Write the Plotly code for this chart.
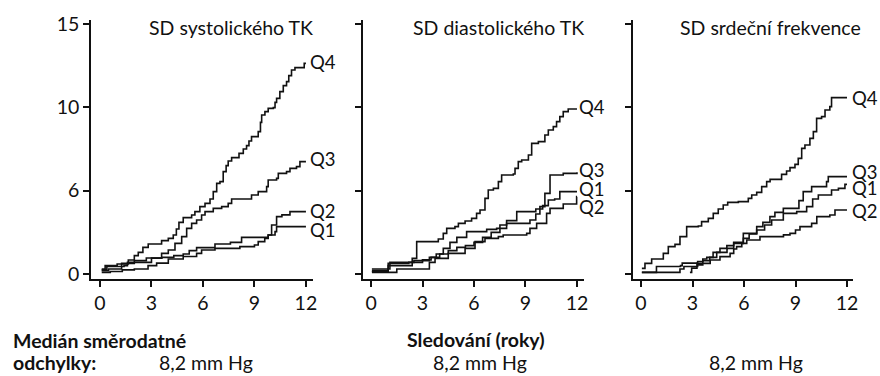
import plotly.graph_objects as go

# ---------------- data (follow-up years, cumulative value) ----------------
tick_years = [0, 3, 6, 9, 12]
y_tickvals = [0, 5, 10, 15]
y_ticktext = ["0", "6", "10", "15"]

panel_titles = ["SD systolického TK", "SD diastolického TK", "SD srdeční frekvence"]
quartiles = ["Q1", "Q2", "Q3", "Q4"]

# Panel 1: SD systolického TK
sys_q4_t = [0.1, 0.3, 1.0, 1.65, 2.0, 2.23, 2.5, 2.81, 3.59, 3.98, 4.27, 4.45, 4.6, 4.85, 5.34, 5.53, 5.82, 6.12, 6.41, 6.6, 6.8, 6.99, 7.18, 7.35, 7.47, 7.67, 8.10, 8.35, 8.54, 8.68, 8.83, 9.22, 9.35, 9.42, 9.61, 9.80, 10.1, 10.2, 10.29, 10.48, 10.68, 10.87, 11.0, 11.16, 11.36, 11.75, 11.9, 12.0]
sys_q4_v = [0.3, 0.5, 0.6, 0.84, 1.1, 1.3, 1.6, 1.8, 2.0, 2.14, 2.34, 2.7, 3.1, 3.38, 3.54, 3.74, 4.04, 4.24, 4.5, 4.94, 5.44, 5.54, 6.14, 6.5, 6.78, 6.98, 7.24, 7.5, 7.7, 7.98, 8.24, 8.54, 9.1, 9.54, 9.74, 9.94, 9.98, 10.3, 10.54, 10.94, 11.3, 11.54, 11.9, 12.24, 12.38, 12.38, 12.64, 12.64]
sys_q3_t = [0.1, 0.5, 1.26, 2.0, 2.7, 3.59, 3.98, 4.37, 4.76, 5.05, 5.34, 5.63, 5.92, 6.12, 6.6, 7.09, 7.47, 7.67, 8.25, 8.83, 9.22, 9.71, 9.80, 10.29, 10.39, 10.87, 11.07, 11.45, 11.65, 12.0]
sys_q3_v = [0.2, 0.3, 0.64, 0.8, 0.96, 1.24, 1.44, 1.84, 2.24, 2.74, 3.04, 3.24, 3.54, 3.74, 3.94, 4.04, 4.24, 4.5, 4.5, 4.74, 4.94, 5.24, 5.64, 5.74, 6.04, 6.14, 6.34, 6.44, 6.74, 6.74]
sys_q2_t = [0.1, 0.4, 1.4, 1.6, 2.6, 3.0, 3.6, 4.3, 4.85, 5.2, 5.63, 6.7, 7.6, 8.25, 9.6, 9.8, 10.0, 10.29, 10.6, 11.07, 12.0]
sys_q2_v = [0.25, 0.45, 0.5, 0.7, 0.7, 0.95, 1.0, 1.1, 1.2, 1.4, 1.58, 1.8, 1.9, 2.2, 2.2, 2.34, 2.94, 3.44, 3.55, 3.74, 3.74]
sys_q1_t = [0.1, 0.6, 1.3, 2.0, 2.8, 3.3, 3.98, 4.85, 5.63, 5.92, 6.7, 8.15, 9.0, 9.22, 9.6, 9.8, 10.2, 10.29, 12.0]
sys_q1_v = [0.1, 0.15, 0.25, 0.3, 0.5, 0.65, 0.9, 1.05, 1.24, 1.44, 1.54, 1.64, 1.74, 1.94, 2.14, 2.34, 2.54, 2.84, 2.84]

# Panel 2: SD diastolického TK
dia_q4_t = [0.05, 1.0, 1.0, 2.2, 2.4, 2.66, 3.86, 3.92, 4.21, 4.41, 4.89, 5.09, 5.48, 5.86, 6.15, 6.35, 6.64, 6.83, 7.13, 7.42, 7.61, 8.29, 8.39, 8.58, 8.78, 9.17, 9.36, 9.75, 10.13, 10.33, 10.62, 10.81, 11.0, 11.2, 11.49, 12.0]
dia_q4_v = [0.3, 0.3, 0.64, 0.7, 0.94, 1.94, 1.94, 2.1, 2.44, 2.74, 2.84, 3.04, 3.18, 3.34, 3.64, 3.84, 4.54, 5.04, 5.14, 5.54, 5.94, 6.0, 6.34, 6.74, 6.84, 7.14, 7.84, 7.94, 8.34, 8.64, 8.84, 9.14, 9.44, 9.74, 9.9, 9.9]
dia_q3_t = [0.05, 0.8, 1.0, 2.4, 3.0, 3.4, 3.8, 4.21, 4.6, 5.0, 5.57, 6.74, 7.32, 7.9, 9.26, 9.6, 9.84, 10.13, 10.43, 11.2, 12.0]
dia_q3_v = [0.15, 0.15, 0.5, 0.7, 0.8, 1.0, 1.2, 1.54, 1.9, 2.2, 2.54, 2.68, 2.74, 3.04, 3.24, 3.6, 4.04, 4.84, 5.94, 6.04, 6.1]
dia_q1_t = [0.05, 1.0, 1.1, 2.5, 3.0, 3.5, 4.0, 4.5, 5.0, 5.5, 6.0, 6.5, 7.0, 7.51, 7.9, 8.49, 9.46, 9.6, 10.0, 10.33, 10.7, 11.0, 12.0]
dia_q1_v = [0.2, 0.3, 0.7, 0.8, 0.85, 1.0, 1.2, 1.4, 1.6, 1.7, 1.9, 2.2, 2.5, 2.94, 3.2, 3.74, 3.74, 3.9, 4.1, 4.44, 4.5, 4.94, 4.94]
dia_q2_t = [0.05, 1.3, 1.5, 3.0, 3.4, 3.73, 4.5, 5.48, 6.06, 6.64, 7.42, 7.7, 9.07, 9.26, 9.65, 10.23, 10.43, 11.2, 11.9, 11.98, 12.0]
dia_q2_v = [0.1, 0.1, 0.3, 0.3, 0.7, 0.94, 1.24, 1.54, 1.94, 2.14, 2.24, 2.34, 2.44, 2.74, 3.04, 3.64, 3.94, 4.2, 4.2, 4.64, 4.64]

# Panel 3: SD srdeční frekvence
hr_q4_t = [0.05, 0.23, 0.62, 1.2, 1.3, 1.59, 1.98, 2.27, 2.66, 3.34, 3.53, 3.92, 4.21, 4.5, 4.79, 5.05, 5.67, 6.25, 6.45, 6.74, 7.03, 7.32, 7.52, 8.0, 8.19, 8.48, 8.68, 8.97, 9.16, 9.36, 9.55, 9.84, 10.04, 10.23, 10.52, 10.72, 11.0, 11.1, 12.0]
hr_q4_v = [0.34, 0.64, 0.9, 0.9, 1.24, 1.64, 1.78, 2.24, 2.84, 2.88, 3.14, 3.34, 3.64, 3.9, 4.14, 4.3, 4.34, 4.54, 4.74, 4.9, 5.24, 5.54, 5.68, 5.68, 5.98, 6.18, 6.38, 6.58, 6.94, 7.54, 7.74, 8.14, 8.54, 9.34, 9.44, 9.84, 10.04, 10.58, 10.58]
hr_q3_t = [0.05, 0.85, 0.9, 2.3, 2.4, 3.3, 3.6, 3.83, 4.2, 4.6, 5.0, 5.4, 5.96, 6.3, 6.74, 7.1, 7.51, 7.8, 8.29, 9.0, 9.2, 9.45, 9.94, 10.81, 10.91, 12.0]
hr_q3_v = [0.1, 0.1, 0.45, 0.5, 0.65, 0.75, 0.9, 1.0, 1.3, 1.54, 1.7, 1.84, 2.14, 2.4, 2.84, 3.1, 3.44, 3.7, 3.94, 3.94, 4.4, 4.94, 5.24, 5.54, 5.84, 5.84]
hr_q1_t = [0.05, 1.2, 2.27, 2.5, 3.3, 3.6, 4.0, 4.41, 5.01, 5.4, 5.96, 6.74, 7.2, 7.61, 8.29, 9.07, 9.65, 10.0, 10.33, 11.1, 11.5, 11.88, 12.0]
hr_q1_v = [0.1, 0.1, 0.3, 0.45, 0.55, 0.8, 1.0, 1.3, 1.54, 1.9, 2.44, 2.64, 2.94, 3.24, 3.64, 3.74, 4.04, 4.5, 4.74, 5.04, 5.14, 5.38, 5.38]
hr_q2_t = [2.85, 2.95, 3.26, 4.03, 4.6, 5.19, 5.4, 5.57, 5.87, 6.16, 6.93, 7.9, 8.3, 8.68, 9.0, 9.26, 9.94, 10.24, 11.0, 11.3, 12.0]
hr_q2_v = [0.1, 0.35, 0.64, 0.84, 1.04, 1.24, 1.5, 1.64, 1.84, 2.04, 2.24, 2.24, 2.35, 2.44, 2.64, 2.84, 3.04, 3.44, 3.54, 3.84, 3.84]

# label heights for the quartile tags at the right end of each panel
label_y_sys = [2.64, 3.80, 6.88, 12.74]
label_y_dia = [5.08, 4.04, 6.24, 10.0]
label_y_hr = [5.14, 3.80, 6.14, 10.54]

median_sd_text = ["8,2 mm Hg", "8,2 mm Hg", "8,2 mm Hg"]

# ---------------- figure ----------------
FONT = "Lato"
FS = 19.5
QFS = 18.5
INK = "#111111"

panels = [
    ([(sys_q1_t, sys_q1_v), (sys_q2_t, sys_q2_v), (sys_q3_t, sys_q3_v), (sys_q4_t, sys_q4_v)], label_y_sys),
    ([(dia_q1_t, dia_q1_v), (dia_q2_t, dia_q2_v), (dia_q3_t, dia_q3_v), (dia_q4_t, dia_q4_v)], label_y_dia),
    ([(hr_q1_t, hr_q1_v), (hr_q2_t, hr_q2_v), (hr_q3_t, hr_q3_v), (hr_q4_t, hr_q4_v)], label_y_hr),
]

fig = go.Figure()
annotations = []
label_shift = [3, 1, 4]          # px gap between line end and quartile tag
title_x = [7.66, 7.45, 7.54]

for i, (series, label_ys) in enumerate(panels):
    xa = "x" if i == 0 else f"x{i+1}"
    ya = "y" if i == 0 else f"y{i+1}"
    for (t, v), q in zip(series, quartiles):
        fig.add_trace(go.Scatter(
            x=t, y=v, mode="lines", xaxis=xa, yaxis=ya,
            line=dict(color=INK, width=1.6, shape="hv"),
            showlegend=False, hoverinfo="skip", name=q,
        ))
    for q, ly in zip(quartiles, label_ys):
        annotations.append(dict(
            x=12.0, y=ly, xref=xa, yref=ya, text=q, showarrow=False, xshift=label_shift[i],
            xanchor="left", yanchor="middle", borderpad=0,
            font=dict(family=FONT, size=QFS, color=INK),
        ))
    annotations.append(dict(
        x=title_x[i], y=14.82, xref=xa, yref=ya, text=panel_titles[i], showarrow=False,
        xanchor="center", yanchor="middle", font=dict(family=FONT, size=FS, color=INK),
    ))

# bottom texts (paper coords)
def px_x(px):
    return (px - 91) / 762.0

def px_y(py):
    return (279 - py) / 259.0

annotations += [
    dict(x=px_x(11), y=px_y(340), xref="paper", yref="paper", text="<b>Medián směrodatné</b>",
         showarrow=False, xanchor="left", yanchor="middle", font=dict(family=FONT, size=FS, color=INK)),
    dict(x=px_x(11), y=px_y(362), xref="paper", yref="paper", text="<b>odchylky:</b>",
         showarrow=False, xanchor="left", yanchor="middle", font=dict(family=FONT, size=FS, color=INK)),
    dict(x=px_x(157), y=px_y(362), xref="paper", yref="paper", text=median_sd_text[0],
         showarrow=False, xanchor="left", yanchor="middle", font=dict(family=FONT, size=FS, color=INK)),
    dict(x=px_x(476), y=px_y(339), xref="paper", yref="paper", text="<b>Sledování (roky)</b>",
         showarrow=False, xanchor="center", yanchor="middle", font=dict(family=FONT, size=FS, color=INK)),
    dict(x=px_x(480), y=px_y(362), xref="paper", yref="paper", text=median_sd_text[1],
         showarrow=False, xanchor="center", yanchor="middle", font=dict(family=FONT, size=FS, color=INK)),
    dict(x=px_x(756), y=px_y(362), xref="paper", yref="paper", text=median_sd_text[2],
         showarrow=False, xanchor="center", yanchor="middle", font=dict(family=FONT, size=FS, color=INK)),
]

x_domains = [[0.0, 0.2913], [0.357, 0.647], [0.7113, 1.0]]
x_ranges = [[-0.524, 12.41], [-0.466, 12.41], [-0.466, 12.35]]

axis_common = dict(showline=True, linecolor=INK, linewidth=1.5, ticks="outside", ticklen=6,
                   tickwidth=1.5, tickcolor=INK, showgrid=False, zeroline=False,
                   tickfont=dict(family=FONT, size=FS, color=INK), fixedrange=True)

layout = dict(
    width=880, height=376,
    margin=dict(l=91, r=27, t=20, b=97),
    paper_bgcolor="white", plot_bgcolor="white",
    annotations=annotations,
    font=dict(family=FONT, size=FS, color=INK),
)
for i in range(3):
    xk = "xaxis" if i == 0 else f"xaxis{i+1}"
    yk = "yaxis" if i == 0 else f"yaxis{i+1}"
    ya = "y" if i == 0 else f"y{i+1}"
    xa = "x" if i == 0 else f"x{i+1}"
    layout[xk] = dict(domain=x_domains[i], range=x_ranges[i], anchor=ya,
                      tickvals=tick_years, ticktext=[str(v) for v in tick_years], **axis_common)
    layout[yk] = dict(domain=[0, 1], range=[-0.3, 15.24], anchor=xa,
                      tickvals=y_tickvals, ticktext=y_ticktext,
                      showticklabels=(i == 0), **axis_common)

fig.update_layout(**layout)
fig.write_html("out.html", config={"displayModeBar": False},
               post_script="document.body.style.margin='0';document.body.style.overflow='hidden';")
